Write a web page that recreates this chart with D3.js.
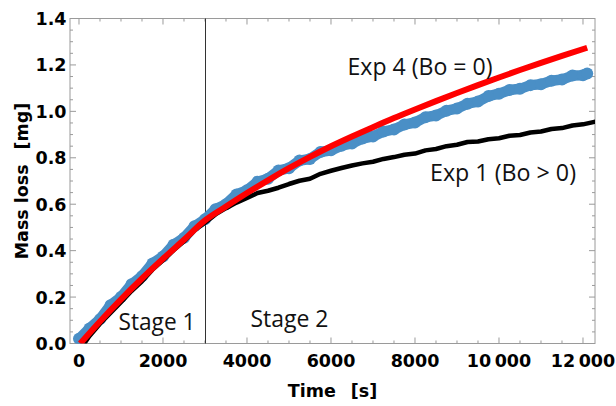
<!DOCTYPE html>
<html>
<head>
<meta charset="utf-8">
<script src="https://cdn.jsdelivr.net/npm/d3@7"></script>
<style>
  html, body { margin: 0; padding: 0; background: #fff; }
  svg { display: block; }
</style>
</head>
<body>
<svg id="chart" width="616" height="406"></svg>
<script>
// ---------- data ----------
const redTime   = [30, 500, 1000, 1500, 2000, 2500, 3000, 3500, 4000, 4500, 5000, 5500, 6000, 6500, 7000, 7500, 8000, 8500, 9000, 9500, 10000, 10500, 11000, 11500, 12100];
const redMass   = [0, 0.095, 0.19, 0.28, 0.365, 0.447, 0.53, 0.59, 0.648, 0.703, 0.755, 0.804, 0.85, 0.892, 0.932, 0.971, 1.008, 1.044, 1.079, 1.113, 1.146, 1.178, 1.209, 1.239, 1.274];

const blueTime  = [0, 250, 500, 750, 1000, 1250, 1500, 1750, 2000, 2250, 2500, 2750, 3000, 3250, 3500, 3750, 4000, 4250, 4500, 4750, 5000, 5250, 5500, 5750, 6000, 6250, 6500, 6750, 7000, 7250, 7500, 7750, 8000, 8250, 8500, 8750, 9000, 9250, 9500, 9750, 10000, 10250, 10500, 10750, 11000, 11250, 11500, 11750, 12000, 12100];
const blueMass  = [0.02, 0.065, 0.105, 0.165, 0.2, 0.255, 0.29, 0.345, 0.375, 0.425, 0.455, 0.505, 0.535, 0.578, 0.6, 0.642, 0.66, 0.697, 0.71, 0.745, 0.755, 0.788, 0.795, 0.825, 0.832, 0.852, 0.862, 0.883, 0.892, 0.913, 0.922, 0.943, 0.952, 0.975, 0.982, 1.003, 1.012, 1.033, 1.042, 1.066, 1.076, 1.092, 1.097, 1.113, 1.117, 1.132, 1.137, 1.154, 1.156, 1.163];

const blackTime = [125, 250, 500, 750, 1000, 1250, 1500, 1750, 2000, 2250, 2500, 2750, 3000, 3250, 3500, 3750, 4000, 4250, 4500, 4750, 5000, 5250, 5500, 5750, 6000, 6250, 6500, 6750, 7000, 7250, 7500, 7750, 8000, 8250, 8500, 8750, 9000, 9250, 9500, 9750, 10000, 10250, 10500, 10750, 11000, 11250, 11500, 11750, 12000, 12300];
const blackMass = [0.0, 0.032, 0.085, 0.132, 0.178, 0.226, 0.268, 0.318, 0.358, 0.401, 0.44, 0.488, 0.52, 0.556, 0.583, 0.607, 0.627, 0.648, 0.658, 0.671, 0.687, 0.701, 0.71, 0.731, 0.744, 0.756, 0.767, 0.776, 0.783, 0.795, 0.803, 0.813, 0.818, 0.832, 0.838, 0.85, 0.856, 0.868, 0.87, 0.88, 0.884, 0.895, 0.898, 0.909, 0.913, 0.924, 0.928, 0.939, 0.944, 0.956];

const xTicks = [0, 2000, 4000, 6000, 8000, 10000, 12000];
const xTickLabels = ["0", "2000", "4000", "6000", "8000", "10\u2009000", "12\u2009000"];
const yTicks = [0.0, 0.2, 0.4, 0.6, 0.8, 1.0, 1.2, 1.4];
const yTickLabels = ["0.0", "0.2", "0.4", "0.6", "0.8", "1.0", "1.2", "1.4"];
const stageBoundary = 3000;

// ---------- layout ----------
const svg = d3.select("#chart");
const L = 70, R = 595, T = 18.5, B = 343.5;
const x = d3.scaleLinear().domain([-214, 12286]).range([L, R]);
const y = d3.scaleLinear().domain([0, 1.4]).range([B, T]);

svg.append("defs").append("clipPath").attr("id", "clip")
  .append("rect").attr("x", L).attr("y", T).attr("width", R - L).attr("height", B - T);

const frameColor = "#9a9a9a";

// ticks (inward) on all four sides
const xMinor = d3.range(0, 12001, 500);
const yMinor = d3.range(0, 1.4001, 0.05);
const tickG = svg.append("g").attr("stroke", frameColor).attr("stroke-width", 1);
xMinor.forEach(v => {
  const isMajor = Math.abs(v % 2000) < 1e-6;
  const len = isMajor ? 6 : 3;
  tickG.append("line").attr("x1", x(v)).attr("x2", x(v)).attr("y1", B).attr("y2", B - len);
  tickG.append("line").attr("x1", x(v)).attr("x2", x(v)).attr("y1", T).attr("y2", T + len);
});
yMinor.forEach(v => {
  const isMajor = Math.abs(Math.round(v * 100) % 20) < 1e-6;
  const len = isMajor ? 6 : 3;
  tickG.append("line").attr("x1", L).attr("x2", L + len).attr("y1", y(v)).attr("y2", y(v));
  tickG.append("line").attr("x1", R).attr("x2", R - len).attr("y1", y(v)).attr("y2", y(v));
});

// frame
svg.append("rect").attr("x", L).attr("y", T).attr("width", R - L).attr("height", B - T)
  .attr("fill", "none").attr("stroke", frameColor).attr("stroke-width", 1);

// stage separator
svg.append("line")
  .attr("x1", Math.round(x(stageBoundary)) + 0.5).attr("x2", Math.round(x(stageBoundary)) + 0.5)
  .attr("y1", T).attr("y2", B)
  .attr("stroke", "#333").attr("stroke-width", 1);

// series
const plot = svg.append("g").attr("clip-path", "url(#clip)");
const line = d3.line().x(d => x(d[0])).y(d => y(d[1])).curve(d3.curveLinear);

const blueData = blueTime.map((t, i) => [t, blueMass[i]]);
const blackData = blackTime.map((t, i) => [t, blackMass[i]]);
const redData = redTime.map((t, i) => [t, redMass[i]]);

const blueColor = "#4a8fc6";
plot.append("path").datum(blueData).attr("d", line)
  .attr("fill", "none").attr("stroke", blueColor).attr("stroke-width", 10.5)
  .attr("stroke-linecap", "round").attr("stroke-linejoin", "round");
plot.selectAll("circle.blue").data(blueData).enter().append("circle")
  .attr("cx", d => x(d[0])).attr("cy", d => y(d[1])).attr("r", 6).attr("fill", blueColor);

plot.append("path").datum(blackData).attr("d", line)
  .attr("fill", "none").attr("stroke", "#000").attr("stroke-width", 4.5)
  .attr("stroke-linejoin", "round");

plot.append("path").datum(redData).attr("d", d3.line().x(d => x(d[0])).y(d => y(d[1])).curve(d3.curveMonotoneX))
  .attr("fill", "none").attr("stroke", "#ff0000").attr("stroke-width", 6);

// tick labels
const tickFont = "'DejaVu Sans', sans-serif";
svg.append("g").selectAll("text").data(xTicks).enter().append("text")
  .attr("x", d => x(d)).attr("y", 366.5)
  .attr("text-anchor", "middle").attr("font-family", tickFont).attr("font-weight", "bold")
  .attr("font-size", 17.5).attr("fill", "#000")
  .text((d, i) => xTickLabels[i]);
svg.append("g").selectAll("text").data(yTicks).enter().append("text")
  .attr("x", 66.5).attr("y", d => y(d) + 6.5)
  .attr("text-anchor", "end").attr("font-family", tickFont).attr("font-weight", "bold")
  .attr("font-size", 17.5).attr("fill", "#000")
  .text((d, i) => yTickLabels[i]);

// axis titles
svg.append("text").attr("x", (L + R) / 2).attr("y", 396.5)
  .attr("text-anchor", "middle").attr("font-family", tickFont).attr("font-weight", "bold")
  .attr("font-size", 17.5).attr("fill", "#000")
  .text("Time\u2002 [s]");
svg.append("text").attr("transform", `translate(28,${(T + B) / 2}) rotate(-90)`)
  .attr("text-anchor", "middle").attr("font-family", tickFont).attr("font-weight", "bold")
  .attr("font-size", 17.5).attr("fill", "#000")
  .text("Mass loss\u2002 [mg]");

// annotations
const annFont = "'Open Sans', 'Noto Sans', sans-serif";
const notes = [
  {t: "Exp 4 (Bo = 0)", x: 347.5, y: 75, w: 145},
  {t: "Exp 1 (Bo > 0)", x: 430, y: 180.5, w: 146},
  {t: "Stage 1", x: 118.5, y: 329.5, w: 77},
  {t: "Stage 2", x: 250.5, y: 326.5, w: 78}
];
svg.append("g").selectAll("text").data(notes).enter().append("text")
  .attr("x", d => d.x).attr("y", d => d.y)
  .attr("font-family", annFont).attr("font-size", 23.5).attr("fill", "#111")
  .attr("textLength", d => d.w).attr("lengthAdjust", "spacingAndGlyphs")
  .text(d => d.t);
</script>
</body>
</html>
